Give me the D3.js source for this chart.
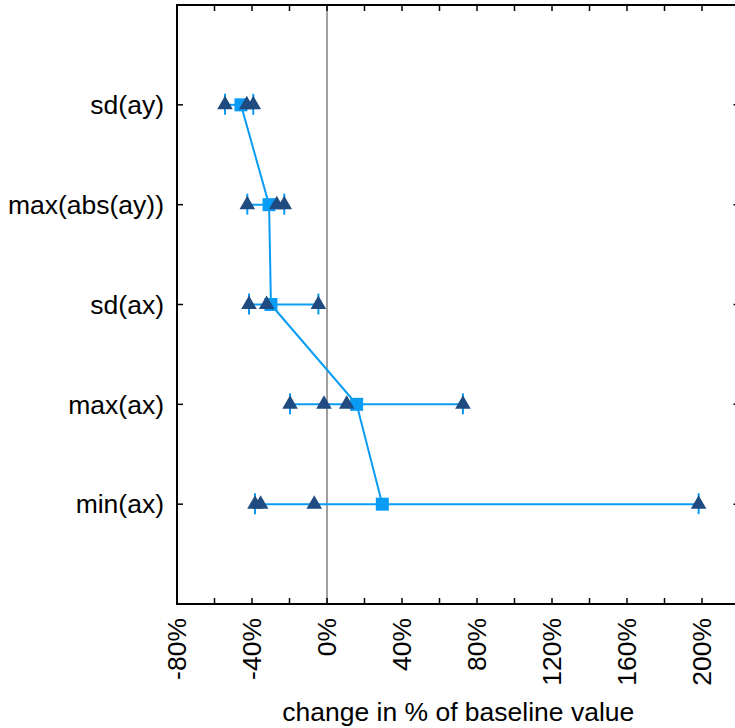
<!DOCTYPE html>
<html>
<head>
<meta charset="utf-8">
<script src="https://cdn.jsdelivr.net/npm/d3@7"></script>
<style>
  body { margin: 0; background: #fff; }
  text { font-family: "Liberation Sans", Arial, sans-serif; }
</style>
</head>
<body>
<div id="chart"></div>
<script>
// categories from top to bottom
const categories = ["sd(ay)", "max(abs(ay))", "sd(ax)", "max(ax)", "min(ax)"];
// individual values (triangles), % change of baseline
const pointValues = [
  [-54.4, -42.8, -39.3],
  [-42.5, -26.8, -22.8],
  [-41.6, -32.2, -4.6],
  [-19.7, -1.6, 10.5, 72.5],
  [-38.4, -35.4, -6.8, 198.2]
];
// mean values (squares)
const meanValues = [-45.9, -30.9, -29.9, 15.8, 29.5];
const xTicksMajor = [-80, -40, 0, 40, 80, 120, 160, 200];

const width = 735, height = 728;
const margin = { top: 5, left: 177, bottom: 124 };
const plotW = 562.5;
const plotH = height - margin.top - margin.bottom;

const navy = "#1f4b80";
const blue = "#0a9cf5";

const svg = d3.select("#chart").append("svg")
  .attr("width", width)
  .attr("height", height);

const x = d3.scaleLinear().domain([-80, 220]).range([margin.left, margin.left + plotW]);
// category i sits at level 5 - i, plot spans levels 0..6
const y = d3.scaleLinear().domain([0, 6]).range([margin.top + plotH, margin.top]);
const yPos = i => y(5 - i);

const x0 = margin.left, x1 = margin.left + plotW;
const y0 = margin.top, y1 = margin.top + plotH;

// zero reference line
svg.append("line")
  .attr("x1", x(0)).attr("x2", x(0))
  .attr("y1", y0).attr("y2", y1)
  .attr("stroke", "#808080").attr("stroke-width", 1.5);

// ticks (inward) on all four sides
const minorTicks = d3.range(-80, 221, 20);
const tickLen = 6;
const ticks = svg.append("g").attr("stroke", "#000").attr("stroke-width", 1.5);
minorTicks.forEach(t => {
  ticks.append("line").attr("x1", x(t)).attr("x2", x(t)).attr("y1", y1).attr("y2", y1 - tickLen);
  ticks.append("line").attr("x1", x(t)).attr("x2", x(t)).attr("y1", y0).attr("y2", y0 + tickLen);
});
categories.forEach((c, i) => {
  ticks.append("line").attr("x1", x0).attr("x2", x0 + tickLen).attr("y1", yPos(i)).attr("y2", yPos(i));
  ticks.append("line").attr("x1", x1).attr("x2", x1 - tickLen).attr("y1", yPos(i)).attr("y2", yPos(i));
});

// frame
svg.append("rect")
  .attr("x", x0).attr("y", y0)
  .attr("width", plotW).attr("height", plotH)
  .attr("fill", "none").attr("stroke", "#000").attr("stroke-width", 2);

// y labels
svg.append("g").selectAll("text")
  .data(categories)
  .join("text")
  .attr("x", 164)
  .attr("y", (d, i) => yPos(i))
  .attr("dy", "0.35em")
  .attr("text-anchor", "end")
  .attr("font-size", 26.5)
  .attr("fill", "#000")
  .text(d => d);

// x tick labels, rotated
svg.append("g").selectAll("text")
  .data(xTicksMajor)
  .join("text")
  .attr("transform", d => `translate(${x(d)},${y1 + 14}) rotate(-90)`)
  .attr("dy", "0.35em")
  .attr("text-anchor", "end")
  .attr("font-size", 26.5)
  .attr("fill", "#000")
  .text(d => d + "%");

// x title
svg.append("text")
  .attr("x", (x0 + x1) / 2)
  .attr("y", 721)
  .attr("text-anchor", "middle")
  .attr("font-size", 26.5)
  .attr("fill", "#000")
  .text("change in % of baseline value");

// connecting line through means
svg.append("path")
  .datum(meanValues)
  .attr("fill", "none")
  .attr("stroke", blue)
  .attr("stroke-width", 2)
  .attr("d", d3.line().x(d => x(d)).y((d, i) => yPos(i)));

// range lines with caps
const ranges = svg.append("g").attr("stroke", blue).attr("stroke-width", 2);
pointValues.forEach((vals, i) => {
  const [lo, hi] = d3.extent(vals);
  const cy = yPos(i);
  ranges.append("line").attr("x1", x(lo)).attr("x2", x(hi)).attr("y1", cy).attr("y2", cy);
  [lo, hi].forEach(v => {
    ranges.append("line").attr("x1", x(v)).attr("x2", x(v)).attr("y1", cy - 11).attr("y2", cy + 10);
  });
});

// mean squares
svg.append("g").selectAll("rect")
  .data(meanValues)
  .join("rect")
  .attr("x", d => x(d) - 6.5)
  .attr("y", (d, i) => yPos(i) - 6.5)
  .attr("width", 13).attr("height", 13)
  .attr("fill", blue);

// triangles
const tri = d3.symbol().type(d3.symbolTriangle).size(105);
const triData = pointValues.flatMap((vals, i) => vals.map(v => ({ v, i })));
svg.append("g").selectAll("path")
  .data(triData)
  .join("path")
  .attr("d", tri)
  .attr("transform", d => `translate(${x(d.v)},${yPos(d.i)})`)
  .attr("fill", navy);
</script>
</body>
</html>
